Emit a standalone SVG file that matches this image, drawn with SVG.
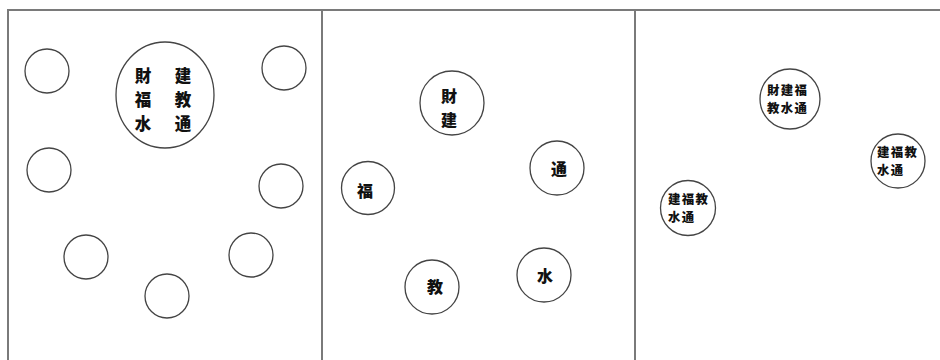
<svg xmlns="http://www.w3.org/2000/svg" width="940" height="360" viewBox="0 0 940 360">
<style>
.frame{fill:none;stroke:#7a7a7a;stroke-width:2}
.c{fill:#fff;stroke:#444;stroke-width:1.3}
.t{font-family:"Noto Sans CJK SC","Noto Sans CJK JP",sans-serif;font-weight:900;fill:#111;dominant-baseline:central}
.big{font-size:16.5px;text-anchor:middle}
.mid{font-size:16px;text-anchor:middle}
.sm{font-size:12.4px;letter-spacing:1.3px}
</style>
<rect width="940" height="360" fill="#fff"/>
<g id="frame">
<path class="frame" d="M8 370 V10 H942"/>
<line class="frame" x1="322" y1="10" x2="322" y2="370"/>
<line class="frame" x1="635" y1="10" x2="635" y2="370"/>
</g>
<g id="panel1">
<g id="p1-big"><ellipse class="c" cx="165" cy="95" rx="49" ry="53"/>
<text class="t big" x="143" y="75">財<tspan x="143" dy="24">福</tspan><tspan x="143" dy="24">水</tspan></text>
<text class="t big" x="183" y="75">建<tspan x="183" dy="24">教</tspan><tspan x="183" dy="24">通</tspan></text></g>
<g id="p1-c1"><circle class="c" cx="47" cy="71" r="22"/></g>
<g id="p1-c2"><circle class="c" cx="284" cy="68" r="22"/></g>
<g id="p1-c3"><circle class="c" cx="49" cy="170" r="22"/></g>
<g id="p1-c4"><circle class="c" cx="281" cy="186" r="22"/></g>
<g id="p1-c5"><circle class="c" cx="86" cy="257" r="22"/></g>
<g id="p1-c6"><circle class="c" cx="251" cy="255" r="22"/></g>
<g id="p1-c7"><circle class="c" cx="167" cy="296" r="22"/></g>
</g>
<g id="panel2">
<g id="p2-a"><circle class="c" cx="452" cy="103" r="32"/>
<text class="t mid" x="449" y="95">財<tspan x="449" dy="23.5">建</tspan></text></g>
<g id="p2-b"><circle class="c" cx="557" cy="168" r="27"/><text class="t mid" x="559" y="168">通</text></g>
<g id="p2-c"><circle class="c" cx="368" cy="188" r="26.5"/><text class="t mid" x="365" y="190">福</text></g>
<g id="p2-d"><circle class="c" cx="432" cy="287" r="27"/><text class="t mid" x="435" y="286">教</text></g>
<g id="p2-e"><circle class="c" cx="544" cy="275" r="27"/><text class="t mid" x="545" y="275">水</text></g>
</g>
<g id="panel3">
<g id="p3-a"><circle class="c" cx="790" cy="99" r="30"/>
<text class="t sm" x="767" y="90">財建福<tspan x="767" dy="18">教水通</tspan></text></g>
<g id="p3-b"><circle class="c" cx="898" cy="161" r="27"/>
<text class="t sm" x="877" y="152">建福教<tspan x="877" dy="18">水通</tspan></text></g>
<g id="p3-c"><circle class="c" cx="688" cy="208" r="27.5"/>
<text class="t sm" x="668" y="199">建福教<tspan x="668" dy="18">水通</tspan></text></g>
</g>
<g id="connectors"></g>
</svg>
